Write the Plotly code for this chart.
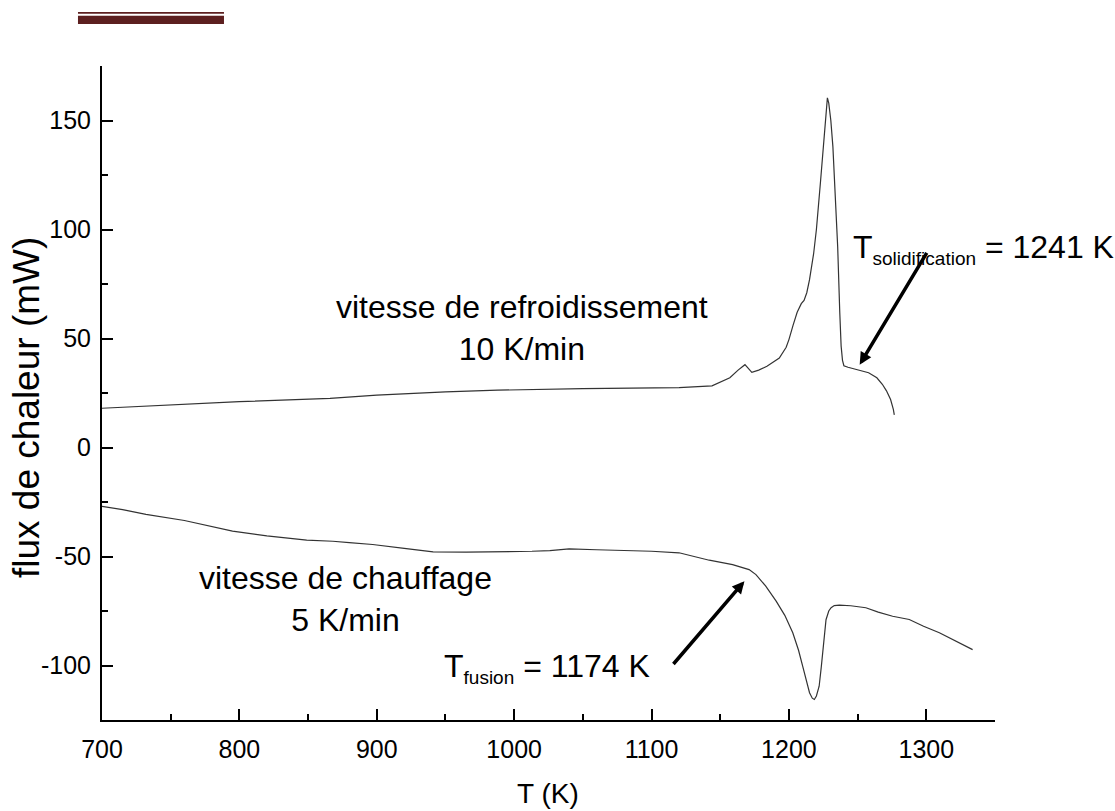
import plotly.graph_objects as go

# Cooling curve (10 K/min)
cool_T = [700, 750, 800, 866, 900, 950, 988, 1050, 1100, 1120, 1144, 1157, 1163, 1168, 1173,
          1178, 1184, 1193, 1198, 1200, 1203, 1206, 1209, 1211, 1213, 1215, 1218, 1220, 1223,
          1225, 1227, 1228, 1229, 1230.5, 1232, 1234, 1235.5, 1237, 1238, 1239, 1240, 1243,
          1246, 1252, 1258, 1264, 1268, 1271, 1274, 1276, 1276.7]
cool_flux = [18.0, 19.5, 21.0, 22.5, 24.0, 25.5, 26.3, 27.0, 27.3, 27.5, 28.3, 32, 35.5, 38, 34.5,
             35.5, 37.3, 41, 46, 49.5, 56, 62, 66, 67.5, 71, 77, 89, 100, 122,
             138, 155, 160.4, 158, 150, 138, 115, 92, 62, 46.5, 40, 37.5, 36.8,
             36.3, 35.5, 34.3, 32, 29, 26, 22, 17.5, 15]

# Heating curve (5 K/min)
heat_T = [700, 715, 732, 760, 795, 820, 849, 860, 868, 880, 897, 920, 941, 965, 990, 1013, 1026,
          1040, 1060, 1074, 1100, 1120, 1142, 1159, 1171, 1176, 1183, 1190.7, 1197, 1202.8, 1207,
          1210, 1213, 1215, 1217, 1218.5, 1220, 1222, 1223.5, 1224.6, 1226, 1227, 1229, 1230.7,
          1233, 1236.7, 1245, 1256, 1265, 1275.5, 1287.6, 1298, 1309.5, 1320, 1333.7]
heat_flux = [-27, -28.5, -30.7, -33.5, -38.4, -40.5, -42.5, -42.6, -43, -43.6, -44.5, -46.3, -47.9,
             -48, -47.9, -47.6, -47.3, -46.5, -46.9, -47.1, -47.6, -48.3, -51.7, -53.7, -56, -58.3,
             -63.5, -70.5, -77, -85, -93, -100.3, -107, -112.5, -115, -115.6, -114, -109.5, -101,
             -94.2, -85, -79, -75, -73.5, -72.5, -72.3, -72.6, -73.5, -75.5, -77.4, -78.9, -82,
             -85, -88.5, -92.7]

x_ticks = [700, 800, 900, 1000, 1100, 1200, 1300]
x_labels = ["700", "800", "900", "1000", "1100", "1200", "1300"]
y_ticks = [-100, -50, 0, 50, 100, 150]
y_labels = ["-100", "-50", "0", "50", "100", "150"]

FONT = "Liberation Sans, Arial, sans-serif"

fig = go.Figure()
fig.add_trace(go.Scatter(x=cool_T, y=cool_flux, mode="lines",
                         line=dict(color="#333333", width=1.2), showlegend=False))
fig.add_trace(go.Scatter(x=heat_T, y=heat_flux, mode="lines",
                         line=dict(color="#333333", width=1.2), showlegend=False))

annotations = [
    dict(x=1005.5, y=54.6, text="vitesse de refroidissement<br>10 K/min", showarrow=False,
         font=dict(size=32, color="black", family=FONT), xanchor="center", yanchor="middle"),
    dict(x=877.5, y=-69.7, text="vitesse de chauffage<br>5 K/min", showarrow=False,
         font=dict(size=32, color="black", family=FONT), xanchor="center", yanchor="middle"),
    dict(x=947.3, y=-101, text='T<sub><span style="font-size:19px">fusion</span></sub> = 1174 K',
         showarrow=False, font=dict(size=32, color="black", family=FONT),
         xanchor="left", yanchor="middle"),
    dict(x=1245.5, y=91, text='T<sub><span style="font-size:19px">solidification</span></sub> = 1241 K',
         showarrow=False, font=dict(size=32, color="black", family=FONT),
         xanchor="left", yanchor="middle"),
    # axis titles
    dict(x=-0.0851, y=0.477, xref="paper", yref="paper", text="flux de chaleur (mW)",
         textangle=-90, showarrow=False, font=dict(size=37, color="black", family=FONT),
         xanchor="center", yanchor="middle"),
    dict(x=0.4994, y=-0.1125, xref="paper", yref="paper", text="T (K)",
         showarrow=False, font=dict(size=28, color="black", family=FONT),
         xanchor="center", yanchor="middle"),
    # arrows
    dict(x=1251.5, y=38, ax=1301, ay=90, xref="x", yref="y", axref="x", ayref="y",
         text="", showarrow=True, arrowhead=2, arrowsize=0.7, arrowwidth=3.5, arrowcolor="black"),
    dict(x=1167.6, y=-61.3, ax=1115, ay=-100, xref="x", yref="y", axref="x", ayref="y",
         text="", showarrow=True, arrowhead=2, arrowsize=0.7, arrowwidth=3.5, arrowcolor="black"),
]

shapes = [
    dict(type="rect", xref="paper", yref="paper", x0=-0.0269, x1=0.1366, y0=1.0800, y1=1.0826,
         fillcolor="#5c1f1f", line=dict(width=0)),
    dict(type="rect", xref="paper", yref="paper", x0=-0.0269, x1=0.1366, y0=1.0642, y1=1.0769,
         fillcolor="#5c1f1f", line=dict(width=0)),
]

fig.update_layout(
    width=1115, height=811,
    margin=dict(l=102, r=120, t=66, b=91),
    plot_bgcolor="white", paper_bgcolor="white",
    font=dict(family=FONT, color="black"),
    annotations=annotations, shapes=shapes,
    xaxis=dict(range=[700, 1350], tickvals=x_ticks, ticktext=x_labels, ticks="inside",
               ticklen=11, tickwidth=2, ticklabelstandoff=6, automargin=False,
               tickcolor="black", showline=True, linecolor="black", linewidth=2, mirror=False,
               showgrid=False, zeroline=False, tickfont=dict(size=25, family=FONT),
               minor=dict(tickvals=[750, 850, 950, 1050, 1150, 1250, 1350], ticks="inside",
                          ticklen=6, tickwidth=2, tickcolor="black")),
    yaxis=dict(range=[-125, 175], tickvals=y_ticks, ticktext=y_labels, ticks="inside",
               ticklen=11, tickwidth=2, ticklabelstandoff=4, automargin=False,
               tickcolor="black", showline=True, linecolor="black", linewidth=2, mirror=False,
               showgrid=False, zeroline=False, tickfont=dict(size=25, family=FONT),
               minor=dict(tickvals=[-125, -75, -25, 25, 75, 125, 175], ticks="inside",
                          ticklen=6, tickwidth=2, tickcolor="black")),
)

fig.write_html("out.html", config={"displayModeBar": False},
               post_script="document.body.style.margin='0';document.body.style.overflow='hidden';")
